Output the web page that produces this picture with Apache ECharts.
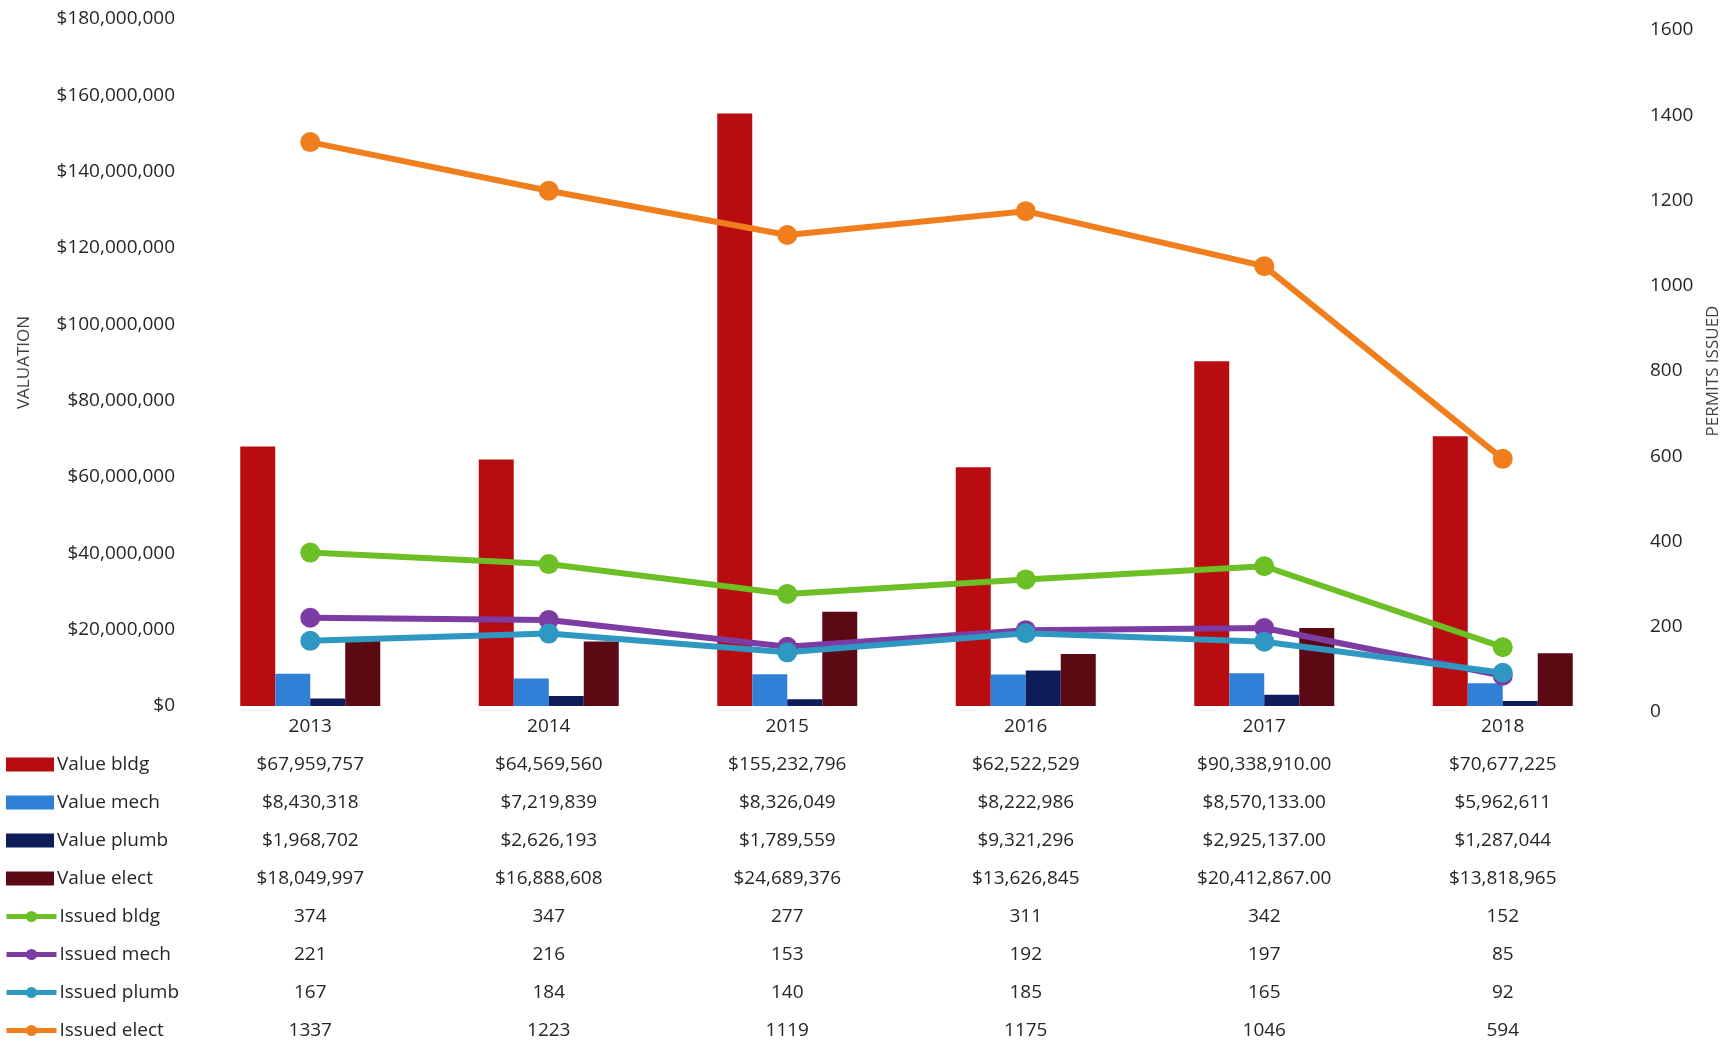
<!DOCTYPE html>
<html>
<head>
<meta charset="utf-8">
<script src="https://cdn.jsdelivr.net/npm/echarts@6/dist/echarts.min.js"></script>
<style>
html,body{margin:0;padding:0;background:#fff;}
#chart{width:1736px;height:1046px;}
</style>
</head>
<body>
<div id="chart"></div>
<script>
const years = ['2013','2014','2015','2016','2017','2018'];
const valueBldg  = [67959757, 64569560, 155232796, 62522529, 90338910, 70677225];
const valueMech  = [8430318, 7219839, 8326049, 8222986, 8570133, 5962611];
const valuePlumb = [1968702, 2626193, 1789559, 9321296, 2925137, 1287044];
const valueElect = [18049997, 16888608, 24689376, 13626845, 20412867, 13818965];
const issuedBldg  = [374, 347, 277, 311, 342, 152];
const issuedMech  = [221, 216, 153, 192, 197, 85];
const issuedPlumb = [167, 184, 140, 185, 165, 92];
const issuedElect = [1337, 1223, 1119, 1175, 1046, 594];
const valueDecimals = [0, 0, 0, 0, 2, 0];
const leftTicks = {min: 0, max: 180000000, interval: 20000000};
const rightTicks = {min: 0, max: 1600, interval: 200};

const FONT = '"Open Sans", "Noto Sans", sans-serif';
const TXT = '#262626';

function money(v, d) {
  return '$' + v.toLocaleString('en-US', {minimumFractionDigits: d, maximumFractionDigits: d});
}

const chart = echarts.init(document.getElementById('chart'), null, {renderer: 'canvas'});

const barNames = ['Value bldg','Value mech','Value plumb','Value elect'];
const barData = [valueBldg, valueMech, valuePlumb, valueElect];
const barColors = ['#B80C10', '#2F80D6', '#0E1C5A', '#5B0A14'];
const lineNames = ['Issued bldg','Issued mech','Issued plumb','Issued elect'];
const lineData = [issuedBldg, issuedMech, issuedPlumb, issuedElect];
const lineColors = ['#6CBF25', '#7D3CA3', '#2E98C2', '#F07E1C'];

const series = [];
barNames.forEach((n, i) => {
  series.push({
    name: n, type: 'bar', xAxisIndex: 0, yAxisIndex: 0,
    data: barData[i], barWidth: 35, barGap: '0%',
    itemStyle: {color: barColors[i]}, z: 2
  });
});
lineNames.forEach((n, i) => {
  series.push({
    name: n, type: 'line', xAxisIndex: 1, yAxisIndex: 1,
    data: lineData[i], symbol: 'circle', symbolSize: 20,
    lineStyle: {width: 6, color: lineColors[i]},
    itemStyle: {color: lineColors[i]}, z: 5
  });
});

const legendText = {fontFamily: FONT, fontSize: 19, color: TXT, lineHeight: 18, padding: [0,0,0,-2]};

const option = {
  backgroundColor: '#fff',
  animation: false,
  textStyle: {fontFamily: FONT},
  legend: [
    {
      orient: 'vertical', left: 6, top: 755, padding: 0,
      itemWidth: 48, itemHeight: 14, itemGap: 19,
      textStyle: legendText,
      data: barNames.map(n => ({name: n, icon: 'rect'}))
    },
    {
      orient: 'vertical', left: 4, top: 907, padding: 0,
      itemWidth: 50, itemHeight: 14, itemGap: 19,
      lineStyle: {width: 5},
      textStyle: legendText,
      data: lineNames.map(n => ({name: n}))
    }
  ],
  grid: [
    {left: 191, right: 114, top: 19, bottom: 340},
    {left: 191, right: 114, top: 30, bottom: 334}
  ],
  xAxis: [
    {
      type: 'category', gridIndex: 0, data: years,
      axisLine: {show: false}, axisTick: {show: false},
      axisLabel: {
        interval: 0, margin: 2,
        formatter: function (val, idx) {
          const d = valueDecimals[idx];
          const lines = [val,
            money(valueBldg[idx], d), money(valueMech[idx], d),
            money(valuePlumb[idx], d), money(valueElect[idx], d),
            String(issuedBldg[idx]), String(issuedMech[idx]),
            String(issuedPlumb[idx]), String(issuedElect[idx])];
          return lines.map(s => '{a|' + s + '}').join('\n');
        },
        rich: {a: {fontFamily: FONT, fontSize: 19, lineHeight: 38, color: TXT}}
      }
    },
    {
      type: 'category', gridIndex: 1, data: years, show: false
    }
  ],
  yAxis: [
    {
      type: 'value', gridIndex: 0, position: 'left',
      min: leftTicks.min, max: leftTicks.max, interval: leftTicks.interval,
      name: 'VALUATION', nameLocation: 'middle', nameGap: 158, nameRotate: 90,
      nameTextStyle: {fontFamily: FONT, fontSize: 17, color: '#404040'},
      axisLine: {show: false}, axisTick: {show: false}, splitLine: {show: false},
      axisLabel: {
        margin: 16, fontFamily: FONT, fontSize: 19, color: TXT,
        formatter: v => '$' + v.toLocaleString('en-US')
      }
    },
    {
      type: 'value', gridIndex: 1, position: 'right',
      min: rightTicks.min, max: rightTicks.max, interval: rightTicks.interval,
      name: 'PERMITS ISSUED', nameLocation: 'middle', nameGap: 76, nameRotate: 90,
      nameTextStyle: {fontFamily: FONT, fontSize: 17, color: '#404040'},
      axisLine: {show: false}, axisTick: {show: false}, splitLine: {show: false},
      axisLabel: {margin: 28, fontFamily: FONT, fontSize: 19, color: TXT, formatter: v => String(v)}
    }
  ],
  series: series
};
chart.setOption(option);
</script>
</body>
</html>
